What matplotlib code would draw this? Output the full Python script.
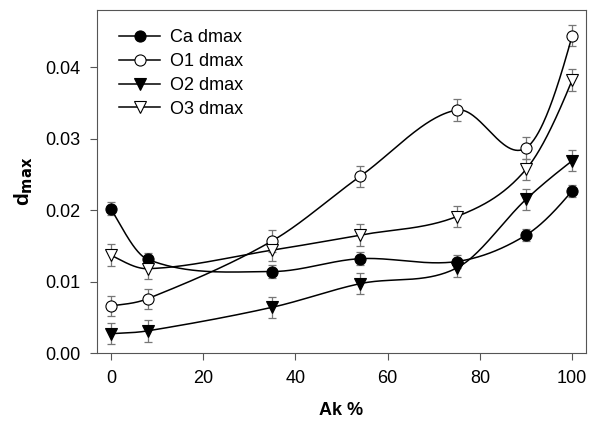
import numpy as np
import matplotlib
matplotlib.use("Agg")
import matplotlib.pyplot as plt

plt.rcParams["font.family"] = ["Liberation Sans", "DejaVu Sans"]

ak = [0, 8, 35, 54, 75, 90, 100]
ca = [0.0202, 0.0131, 0.0114, 0.0132, 0.0128, 0.0165, 0.0227]
o1 = [0.0066, 0.0076, 0.0157, 0.0247, 0.0340, 0.0287, 0.0444]
o2 = [0.0027, 0.0031, 0.0064, 0.0097, 0.0119, 0.0215, 0.0269]
o3 = [0.0137, 0.0118, 0.0144, 0.0165, 0.0191, 0.0257, 0.0382]
ca_err = [0.0009, 0.0009, 0.0009, 0.0009, 0.0009, 0.0008, 0.0008]
o1_err = [0.0014, 0.0014, 0.0015, 0.0015, 0.0015, 0.0015, 0.0015]
o2_err = [0.0015, 0.0015, 0.0015, 0.0015, 0.0013, 0.0015, 0.0015]
o3_err = [0.0015, 0.0015, 0.0015, 0.0015, 0.0015, 0.0015, 0.0015]


def smooth(x, y, n=60):
    # cubic Hermite curve through the points (Catmull-Rom tangents,
    # parabolic tangents at the two ends)
    x = np.asarray(x, float)
    y = np.asarray(y, float)
    m = np.zeros(len(x))
    m[1:-1] = (y[2:] - y[:-2]) / (x[2:] - x[:-2])
    m[0] = np.polyval(np.polyder(np.polyfit(x[:3], y[:3], 2)), x[0])
    m[-1] = np.polyval(np.polyder(np.polyfit(x[-3:], y[-3:], 2)), x[-1])
    xs, ys = [], []
    for i in range(len(x) - 1):
        h = x[i + 1] - x[i]
        t = np.linspace(0, 1, n)
        h00 = 2 * t ** 3 - 3 * t ** 2 + 1
        h10 = t ** 3 - 2 * t ** 2 + t
        h01 = -2 * t ** 3 + 3 * t ** 2
        h11 = t ** 3 - t ** 2
        xs.append(x[i] + t * h)
        ys.append(h00 * y[i] + h10 * h * m[i] + h01 * y[i + 1] + h11 * h * m[i + 1])
    return np.concatenate(xs), np.concatenate(ys)


series = [
    ("Ca dmax", ca, ca_err, "o", "black"),
    ("O1 dmax", o1, o1_err, "o", "white"),
    ("O2 dmax", o2, o2_err, "v", "black"),
    ("O3 dmax", o3, o3_err, "v", "white"),
]

fig = plt.figure(figsize=(5.89, 4.21), dpi=100)
ax = fig.add_axes([97 / 589, 68 / 421, 489 / 589, 343 / 421])

for label, ys, err, mk, fc in series:
    sx, sy = smooth(ak, ys)
    ax.plot(sx, sy, color="black", lw=1.1, zorder=2)
    ax.errorbar(ak, ys, yerr=err, fmt="none", ecolor="#777777", elinewidth=0.9,
                capsize=3, capthick=0.9, zorder=1)
    ax.plot(ak, ys, ls="none", marker=mk, ms=8, mfc=fc, mec="black",
            mew=0.8, zorder=3)
    ax.plot([], [], color="black", lw=1.1, marker=mk, ms=8, mfc=fc,
            mec="black", mew=0.8, label=label)

ax.set_xlim(-3, 103)
ax.set_ylim(0, 0.048)
ax.set_xticks([0, 20, 40, 60, 80, 100])
ax.set_yticks([0.00, 0.01, 0.02, 0.03, 0.04])
ax.set_yticklabels(["0.00", "0.01", "0.02", "0.03", "0.04"])
ax.tick_params(labelsize=13, direction="out", length=5, color="#555555", pad=7)
for s in ax.spines.values():
    s.set_color("#555555")

ax.set_xlabel("Ak %", fontsize=13, fontweight="bold", labelpad=11)
ax.set_ylabel(r"d$_{\mathbf{max}}$", fontsize=15, fontweight="bold", labelpad=7)

ax.legend(loc="upper left", frameon=False, fontsize=13, handlelength=2.3,
          handletextpad=0.55, labelspacing=0.38, borderaxespad=0.0,
          bbox_to_anchor=(0.03, 0.965))

fig.savefig("out.png", dpi=100)
